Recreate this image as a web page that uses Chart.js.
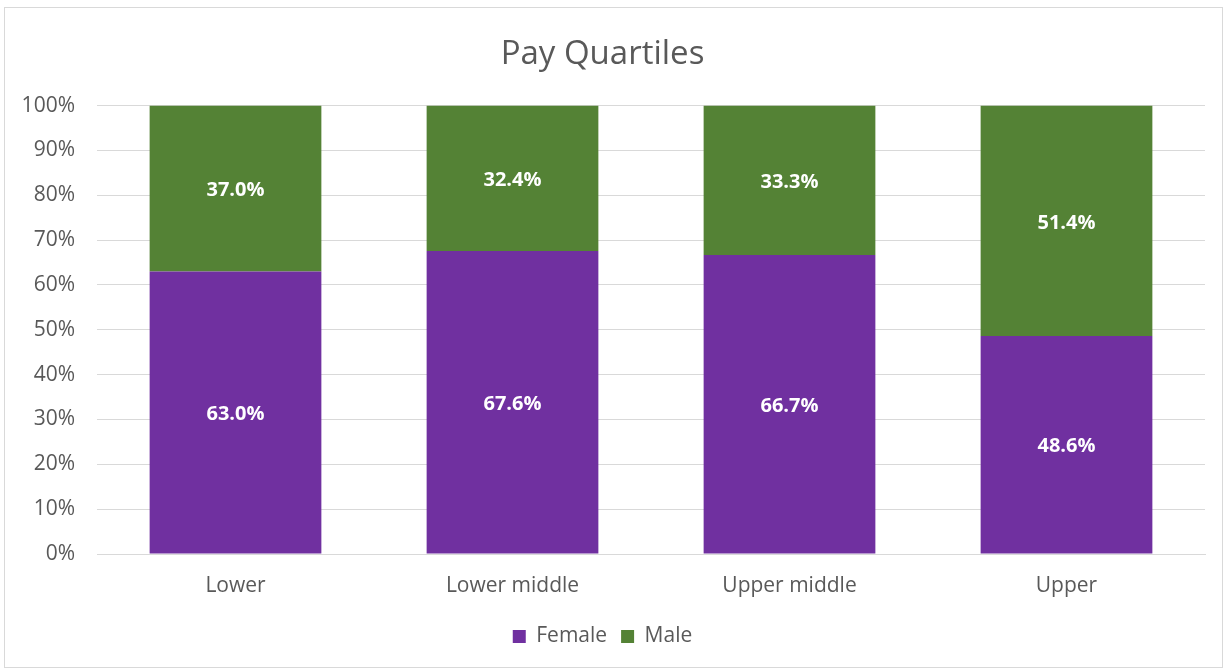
<!DOCTYPE html>
<html>
<head>
<meta charset="utf-8">
<script src="https://cdn.jsdelivr.net/npm/chart.js@4/dist/chart.umd.min.js"></script>
<style>
  body { margin: 0; background: #fff; }
  .wrap { position: relative; width: 1229px; height: 670px; }
  .frame { position: absolute; left: 4px; top: 7px; right: 6px; bottom: 2px; border: 1px solid #d9d9d9; pointer-events: none; }
</style>
</head>
<body>
<div class="wrap">
  <canvas id="payChart" width="1229" height="670"></canvas>
  <div class="frame"></div>
</div>
<script>
const quartiles = ['Lower', 'Lower middle', 'Upper middle', 'Upper'];
const female = [63.0, 67.6, 66.7, 48.6];
const male = [37.0, 32.4, 33.3, 51.4];

const textColor = '#595959';
const fontFamily = '"Open Sans", Lato, sans-serif';

// white value labels in the middle of each segment
const barLabels = {
    id: 'barLabels',
    afterDatasetsDraw(chart) {
        const {ctx} = chart;
        ctx.save();
        ctx.font = 'bold 20px ' + fontFamily;
        ctx.fillStyle = '#ffffff';
        ctx.textAlign = 'center';
        ctx.textBaseline = 'middle';
        chart.data.datasets.forEach((ds, i) => {
            chart.getDatasetMeta(i).data.forEach((bar, j) => {
                const mid = (bar.y + bar.base) / 2;
                ctx.fillText(ds.data[j].toFixed(1) + '%', bar.x, mid + 2);
            });
        });
        ctx.restore();
    }
};

const data = {
    labels: quartiles,
    datasets: [
        { label: 'Female', data: female, backgroundColor: '#7030A0' },
        { label: 'Male', data: male, backgroundColor: '#548235' }
    ]
};

new Chart(document.getElementById('payChart'), {
    type: 'bar',
    data,
    options: {
        responsive: false,
        animation: false,
        layout: { padding: { left: 0, right: 24, top: 0, bottom: 13 } },
        datasets: { bar: { categoryPercentage: 0.62, barPercentage: 1 } },
        plugins: {
            title: {
                display: true,
                text: 'Pay Quartiles',
                color: textColor,
                font: { family: fontFamily, size: 33, weight: 'normal' },
                padding: { top: 35, bottom: 31 }
            },
            legend: {
                position: 'bottom',
                labels: {
                    color: textColor,
                    font: { family: fontFamily, size: 21 },
                    boxWidth: 13,
                    boxHeight: 13,
                    padding: 14
                }
            },
            tooltip: { enabled: false }
        },
        scales: {
            x: {
                stacked: true,
                grid: { display: false, drawTicks: false },
                border: { display: true, color: '#d9d9d9' },
                ticks: { color: textColor, font: { family: fontFamily, size: 21 }, padding: 19 },
                afterFit(scale) { scale.height = 58; }
            },
            y: {
                stacked: true,
                min: 0,
                max: 100,
                grid: { color: '#d9d9d9', drawTicks: false },
                border: { display: false },
                ticks: {
                    stepSize: 10,
                    color: textColor,
                    font: { family: fontFamily, size: 21 },
                    padding: 22,
                    callback: v => v + '%'
                },
                afterFit(scale) { scale.width = 97; }
            }
        }
    },
    plugins: [barLabels]
});
</script>
</body>
</html>
